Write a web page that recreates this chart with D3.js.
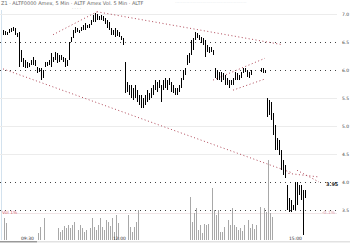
<!DOCTYPE html>
<html><head><meta charset="utf-8">
<script src="https://cdn.jsdelivr.net/npm/d3@7"></script>
<style>body{margin:0;background:#fff;overflow:hidden}svg{display:block}</style>
</head><body><svg id="c" width="350" height="243"></svg>
<script>
// ---- data ----
const barHigh = [6.71,6.70,6.68,6.73,6.75,6.77,6.75,6.66,6.68,6.36,6.21,6.18,6.14,6.13,6.18,6.23,6.18,6.05,6.04,6.04,6.00,6.14,6.14,6.18,6.30,6.23,6.32,6.30,6.27,6.27,6.23,6.21,6.18,6.50,6.59,6.71,6.77,6.75,6.71,6.77,6.80,6.84,6.80,6.82,6.89,6.98,7.02,7.00,6.96,6.98,6.96,6.93,6.89,6.86,6.75,6.71,6.75,6.71,6.68,6.61,6.57,6.14,5.79,5.73,5.73,5.68,5.73,5.64,5.55,5.55,5.50,5.55,5.64,5.59,5.68,5.73,5.82,5.79,5.82,5.73,5.82,5.86,5.82,5.86,5.79,5.73,5.68,5.68,5.73,5.86,6.00,6.04,6.27,6.30,6.54,6.57,6.68,6.66,6.63,6.59,6.57,6.54,6.45,6.41,6.41,6.36,6.04,6.00,5.96,5.96,5.95,5.91,5.86,5.82,5.82,5.86,5.96,5.95,5.91,5.96,6.04,6.04,6.00,5.96,6.00,null,null,null,null,6.04,6.04,6.00,5.50,5.46,5.43,5.23,5.02,4.79,4.75,4.57,4.39,4.30,3.95,3.71,3.68,3.59,4.00,4.00,3.95,3.95,3.86,3.86];
const barLow = [6.63,6.63,6.63,6.66,6.68,6.70,6.63,6.59,6.05,6.14,6.05,6.04,6.04,6.05,6.09,6.09,6.07,5.95,5.96,5.82,5.86,6.05,6.07,6.09,6.05,6.14,6.18,6.13,6.14,6.18,6.14,6.05,6.07,6.18,6.50,6.57,6.66,6.68,6.66,6.70,6.71,6.71,6.75,6.75,6.80,6.86,6.86,6.89,6.89,6.89,6.88,6.82,6.75,6.71,6.63,6.63,6.59,6.61,6.59,6.54,6.45,5.59,5.61,5.55,5.50,5.46,5.50,5.43,5.38,5.32,5.32,5.38,5.43,5.46,5.50,5.55,5.64,5.61,5.68,5.43,5.64,5.68,5.64,5.73,5.61,5.59,5.55,5.55,5.61,5.68,5.82,5.91,6.09,6.13,6.27,6.36,6.54,6.57,6.54,6.48,6.45,6.23,6.32,6.30,6.32,6.27,5.86,5.82,5.82,5.79,5.82,5.73,5.73,5.68,5.73,5.73,5.82,5.82,5.82,5.86,5.95,5.96,5.88,5.86,5.91,null,null,null,null,5.96,5.95,5.95,5.16,5.20,5.11,4.84,4.57,4.57,4.48,4.21,4.13,4.07,3.50,3.46,3.46,3.50,3.50,3.59,3.77,3.68,3.05,3.71];
const volIndex = [0,1,17,18,20,27,28,29,30,31,32,33,34,35,37,38,39,40,41,43,44,45,46,47,48,49,50,51,52,53,54,55,56,57,62,63,64,65,66,67,93,94,95,96,97,98,99,100,101,102,104,105,106,107,108,109,110,112,113,114,115,116,117,118,119,120,122,123,124,125,126,128,130,131,132,133,134];
const volValue = [22,17,7,13,22,12,8,10,14,12,15,12,15,18,10,15,12,8,10,12,22,13,10,15,22,13,10,20,18,14,22,8,25,17,25,13,8,13,18,30,43,18,27,32,10,15,7,16,15,16,52,30,25,30,8,8,13,20,15,32,15,13,10,12,9,15,20,12,16,11,15,33,32,28,80,27,23];
const priceTicks = [7.0,6.5,6.0,5.5,5.0,4.5,4.0,3.5];
const darkGridTicks = [6.5,6.0,4.0,3.5];
const trendFromIdx = [0,25,47,105,115,141,147];
const trendFromPrice = [6.02,6.63,7.04,5.82,5.64,4.16,4.21];
const trendToIdx = [144,47,140,131,131,158,158];
const trendToPrice = [4.17,7.04,6.45,6.21,5.84,4.09,4.00];
const timeLabels = ["09:30","12:00","15:00"];
const timeLabelIdx = [9,55,143];
const lastPrice = 3.95;

// ---- drawing ----
const svg = d3.select("#c");
const x = d3.scaleLinear().domain([0,171]).range([3,345]);
const y = d3.scaleLinear().domain([3,7.25]).range([238,0]);
const yv = d3.scaleLinear().domain([0,80]).range([240,160]);
const ff = "DejaVu Sans";
const px = v => Math.round(v) + 0.5;

svg.append("line").attr("x1",1.5).attr("x2",1.5).attr("y1",10).attr("y2",240)
  .attr("stroke","#d3e2ee").attr("stroke-width",1);

const grid = svg.append("g")
  .call(d3.axisLeft(y).tickValues(priceTicks).tickSize(-337).tickFormat(""));
grid.select(".domain").remove();
grid.selectAll(".tick line")
  .attr("stroke", d => darkGridTicks.includes(d) ? "#444" : "#ececec")
  .attr("stroke-dasharray", d => darkGridTicks.includes(d) ? "1,4" : null)
  .attr("stroke-width", 1);

svg.append("line").attr("x1",3).attr("x2",337).attr("y1",213.5).attr("y2",213.5)
  .attr("stroke","#f1e6e8").attr("stroke-width",1);

const ra = svg.append("g").attr("transform","translate(341,0)")
  .call(d3.axisRight(y).tickValues(priceTicks).tickSize(0).tickFormat(d3.format(".1f")));
ra.select(".domain").remove();
ra.selectAll("text").attr("font-size",4.5).attr("font-family",ff).attr("fill","#444").attr("dx",-2);

svg.append("g").selectAll("line").data(volIndex).join("line")
  .attr("x1",d=>px(x(d))+1).attr("x2",d=>px(x(d))+1)
  .attr("y1",yv(0)).attr("y2",(d,i)=>yv(volValue[i]))
  .attr("stroke","#a8a8a8").attr("stroke-width",1).attr("shape-rendering","crispEdges");

svg.append("g").selectAll("line").data(trendFromIdx).join("line")
  .attr("x1",d=>x(d)).attr("y1",(d,i)=>y(trendFromPrice[i]))
  .attr("x2",(d,i)=>x(trendToIdx[i])).attr("y2",(d,i)=>y(trendToPrice[i]))
  .attr("stroke","#b04858").attr("stroke-width",1).attr("stroke-dasharray","1,2.5");

const idx = d3.range(barHigh.length).filter(i => barHigh[i] != null);
svg.append("g").selectAll("line").data(idx).join("line")
  .attr("x1",d=>px(x(d))).attr("x2",d=>px(x(d)))
  .attr("y1",d=>y(barHigh[d])).attr("y2",d=>y(barLow[d]))
  .attr("stroke","#000").attr("stroke-width",1).attr("shape-rendering","crispEdges");

svg.append("text").attr("x",1).attr("y",5).attr("font-size",5).attr("font-family",ff)
  .attr("fill","#666").text("Z1 · ALTF0000 Amex, 5 Min · ALTF Amex Vol. 5 Min · ALTF");
svg.append("text").attr("x",72).attr("y",10).attr("font-size",4).attr("font-family",ff)
  .attr("fill","#999").text("· · · ·");
svg.append("text").attr("x",175).attr("y",4).attr("font-size",4.5).attr("font-family",ff)
  .attr("fill","#d7dce6").text("··················································");

svg.append("text").attr("x",2).attr("y",214).attr("font-size",4.5).attr("font-family",ff)
  .attr("fill","#d86a78").text("Vol 1%");
svg.append("text").attr("x",322).attr("y",214).attr("font-size",4.5).attr("font-family",ff)
  .attr("fill","#e0a0aa").text("-0.1%");

svg.append("text").attr("x",326).attr("y",y(lastPrice)+1).attr("font-size",5).attr("font-weight","bold")
  .attr("font-family",ff).attr("fill","#222").text(d3.format(".2f")(lastPrice));

svg.append("rect").attr("x",0).attr("y",241).attr("width",37).attr("height",1.5).attr("fill","#999");
svg.append("rect").attr("x",37).attr("y",241).attr("width",313).attr("height",1.5).attr("fill","#e2e2e2");
svg.append("g").selectAll("text").data(timeLabelIdx).join("text")
  .attr("x",d=>x(d)).attr("y",239.5).attr("font-size",4.5).attr("font-family",ff)
  .attr("fill","#333").text((d,i)=>timeLabels[i]);
</script>
</body></html>
